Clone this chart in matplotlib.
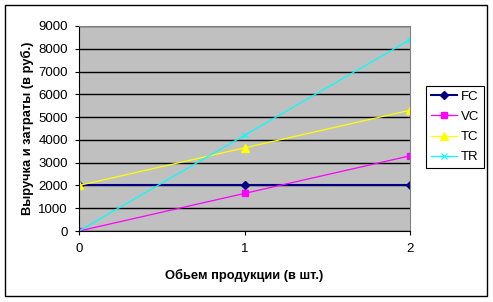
import numpy as np
import matplotlib.pyplot as plt
from matplotlib.patches import Rectangle

plt.rcParams['font.family'] = ['Liberation Sans', 'DejaVu Sans']

# data
x = [0, 1, 2]
fc = [2000, 2000, 2000]
vc = [0, 1650, 3300]
tc = [2000, 3650, 5300]
tr = [0, 4200, 8400]

W, H = 493, 302
fig = plt.figure(figsize=(W / 100, H / 100), dpi=100)
# outer chart border
fig.patches.append(Rectangle((5 / W, 1 - 296 / H), (487 - 5) / W, (296 - 5) / H,
                             transform=fig.transFigure, fill=False,
                             edgecolor='black', linewidth=1))

ax = fig.add_axes([79 / W, 1 - 231 / H, (410 - 79) / W, (231 - 26) / H])
ax.set_facecolor('#c0c0c0')

ax.plot(x, fc, color='#000080', marker='D', markersize=4, linewidth=1.5, label='FC')
ax.plot(x, vc, color='#ff00ff', marker='s', markersize=4.5, linewidth=0.9, label='VC')
ax.plot(x, tc, color='#ffff00', marker='^', markersize=5.5, linewidth=0.9, label='TC')
ax.plot(x, tr, color='#00ffff', marker='x', markersize=4, linewidth=0.9,
        markeredgewidth=0.8, label='TR')

ax.set_xlim(0, 2)
ax.set_ylim(0, 9000)
ax.set_xticks(x)
ax.set_yticks(np.arange(0, 9001, 1000))
ax.yaxis.grid(True, color='black', linewidth=1)
ax.set_axisbelow(True)
ax.tick_params(labelsize=9.5, length=3, direction='out', width=0.8)
ax.tick_params(axis='y', pad=5)
ax.tick_params(axis='x', pad=6)

for s in ['top', 'right']:
    ax.spines[s].set_color('#808080')
for s in ['left', 'bottom']:
    ax.spines[s].set_color('black')

ax.set_xlabel('Обьем продукции (в шт.)', fontsize=9.3, fontweight='bold', labelpad=10)
ax.set_ylabel('Выручка и затраты (в руб.)', fontsize=9.3, fontweight='bold', labelpad=3)

leg = ax.legend(loc='upper left', bbox_to_anchor=(426 / W, 1 - 86 / H),
                bbox_transform=fig.transFigure, fontsize=9.5, frameon=True,
                fancybox=False, edgecolor='black', framealpha=1,
                handlelength=2.0, borderpad=0.35, labelspacing=0.6,
                handletextpad=0.3, borderaxespad=0)
leg.get_frame().set_linewidth(0.8)

fig.savefig('out.png', dpi=100)
